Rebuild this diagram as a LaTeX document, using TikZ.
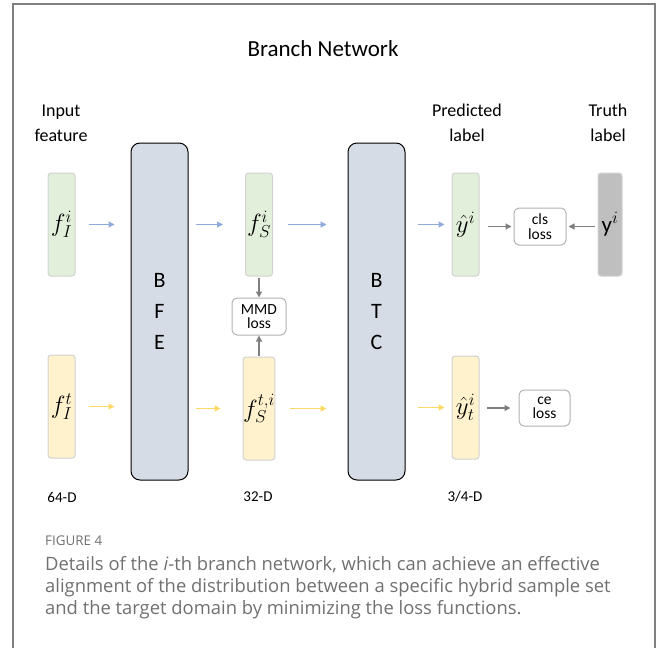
\documentclass[tikz,border=0pt]{standalone}
\usepackage{fontspec}
\setmainfont{Carlito}
\newfontfamily\capfont{Open Sans}
\usetikzlibrary{arrows.meta}

\definecolor{featgreen}{HTML}{E2EFDA}
\definecolor{featyellow}{HTML}{FFF2CC}
\definecolor{blockblue}{HTML}{D6DCE5}
\definecolor{truthgray}{HTML}{BFBFBF}
\definecolor{arrblue}{HTML}{8FAADC}
\definecolor{arryellow}{HTML}{FFD966}
\definecolor{arrgray}{HTML}{7F7F7F}
\definecolor{capgray}{HTML}{707070}

\begin{document}
\begin{tikzpicture}[
  x=1pt, y=-1pt,
  every node/.style={inner sep=1pt},
  feat/.style={rectangle, rounded corners=3pt, draw=black!18, line width=1pt,
               minimum width=27pt, minimum height=103pt, inner sep=0pt,
               font=\fontsize{23}{25}\selectfont},
  green/.style={feat, fill=featgreen},
  yellow/.style={feat, fill=featyellow},
  block/.style={rectangle, rounded corners=9pt, draw=black, line width=1pt, fill=blockblue,
                minimum width=57pt, minimum height=337pt, align=center,
                font=\fontsize{22}{31}\selectfont},
  lossbox/.style={rectangle, rounded corners=5pt, draw=black!30, line width=1pt, fill=white,
                  align=center, inner sep=0pt, font=\fontsize{15.5}{14.5}\selectfont},
  label/.style={align=center, font=\fontsize{18}{25}\selectfont},
  dim/.style={font=\fontsize{15}{17}\selectfont},
  bluearr/.style={draw=arrblue, line width=1.2pt, -{Triangle[length=6pt,width=6pt]}},
  yelarr/.style={draw=arryellow, line width=1.2pt, -{Triangle[length=6pt,width=6pt]}},
  grayarr/.style={draw=arrgray, line width=1.2pt, -{Triangle[length=6pt,width=6pt]}}]

  \useasboundingbox (0,0) rectangle (658,648);
  % open frame round the figure
  \draw[black!50, line width=2pt] (13,648) -- (13,4) -- (655,4) -- (655,648);

  %% ---------------- headings ----------------
  \node[font=\fontsize{23}{25}\selectfont] (title) at (323,49) {Branch Network};
  \node[label] (lin)   at (61,123)  {Input\\feature};
  \node[label] (lpred) at (467,123) {Predicted\\label};
  \node[label] (ltru)  at (608,123) {Truth\\label};

  %% ---------------- blocks ----------------
  \node[block] (bfe) at (159.5,311.5) {B\\F\\E};
  \node[block] (btc) at (376.5,311.5) {B\\T\\C};

  %% ---------------- feature vectors ----------------
  \node[green]  (fIi)  at (61.5,224.5)  {$f_I^i$};
  \node[yellow] (fIt)  at (61.5,406.5)  {$f_I^t$};
  \node[green]  (fSi)  at (259,224.5)   {$f_S^i$};
  \node[yellow] (fSti) at (259,408.5)   {$f_S^{t,i}$};
  \node[green]  (yh)   at (465.5,224.5) {$\hat{y}^i$};
  \node[yellow] (yht)  at (465.5,407.5) {$\hat{y}_t^i$};
  \node[feat, fill=truthgray, minimum width=24pt] (ytr) at (610,224.5) {$\mathrm{y}^i$};

  %% ---------------- losses ----------------
  \node[lossbox, minimum width=54pt, minimum height=37pt] (mmd) at (259,316.5) {MMD\\loss};
  \node[lossbox, minimum width=52pt, minimum height=37pt] (cls) at (540,226.5) {cls\\loss};
  \node[lossbox, minimum width=51pt, minimum height=36pt] (ce)  at (544.5,408) {ce\\loss};

  %% ---------------- arrows ----------------
  % source branch
  \draw[bluearr, shorten <=13pt, shorten >=16pt] (fIi.east) -- (fIi.east -| bfe.west);
  \draw[bluearr, shorten <=7pt, shorten >=22pt]  (fSi.west -| bfe.east) -- (fSi.west);
  \draw[bluearr, shorten <=15pt, shorten >=21pt] (fSi.east) -- (fSi.east -| btc.west);
  \draw[bluearr, shorten <=12pt, shorten >=7pt]  (yh.west -| btc.east) -- (yh.west);
  % target branch
  \draw[yelarr, shorten <=13pt, shorten >=16pt] (fIt.east) -- (fIt.east -| bfe.west);
  \draw[yelarr, shorten <=7pt, shorten >=22pt]  (fSti.west -| bfe.east) -- (fSti.west);
  \draw[yelarr, shorten <=15pt, shorten >=21pt] (fSti.east) -- (fSti.east -| btc.west);
  \draw[yelarr, shorten <=12pt, shorten >=7pt]  (yht.west -| btc.east) -- (yht.west);
  % into the losses
  \draw[grayarr, shorten <=1pt] (fSi.south) -- (mmd.north);
  \draw[grayarr, shorten <=1pt] (fSti.north) -- (mmd.south);
  \draw[grayarr, shorten <=8pt, shorten >=2pt] (yh.east |- cls.west) -- (cls.west);
  \draw[grayarr, shorten <=3pt, shorten >=2pt] (ytr.west |- cls.east) -- (cls.east);
  \draw[grayarr, shorten <=7pt, shorten >=8pt] (yht.east |- ce.west) -- (ce.west);

  %% ---------------- dimensions ----------------
  \node[dim] (d64) at (62,497)  {64-D};
  \node[dim] (d32) at (258,497) {32-D};
  \node[dim] (d34) at (465,497) {3/4-D};

  %% ---------------- caption ----------------
  \begin{scope}[every node/.style={anchor=west, inner sep=0pt, text=capgray}]
    \node[font=\capfont\fontsize{13.4}{15}\selectfont] (fig) at (45,541) {FIGURE 4};
    \node[font=\capfont\fontsize{18.4}{20}\selectfont] (cap1) at (45,565)
      {Details of the \textit{i}-th branch network, which can achieve an effective};
    \node[font=\capfont\fontsize{18.4}{20}\selectfont] (cap2) at (45,588)
      {alignment of the distribution between a specific hybrid sample set};
    \node[font=\capfont\fontsize{18.4}{20}\selectfont] (cap3) at (45,610)
      {and the target domain by minimizing the loss functions.};
  \end{scope}

\end{tikzpicture}
\end{document}
